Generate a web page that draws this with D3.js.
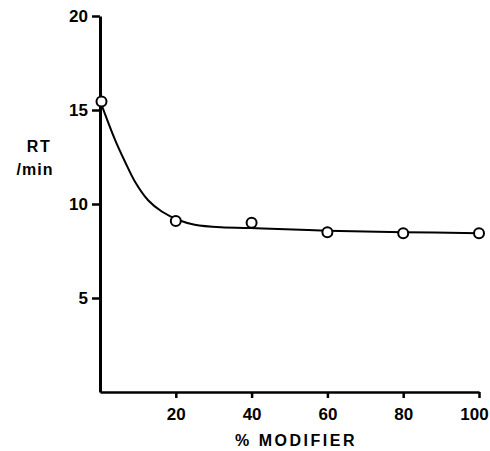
<!DOCTYPE html>
<html>
<head>
<meta charset="utf-8">
<script src="https://cdn.jsdelivr.net/npm/d3@7"></script>
<style>
  body { margin: 0; background: #fff; }
  svg text { font-family: "Liberation Sans", Arial, sans-serif; font-weight: bold; fill: #000; }
</style>
</head>
<body>
<div id="chart"></div>
<script>
// measured points (% modifier vs retention time)
var modifier = [0, 20, 40, 60, 80, 100];
var rt = [15.45, 9.1, 9.0, 8.5, 8.45, 8.45];

// hand drawn fitted curve
var curveX = [0, 4, 6.6, 9.2, 12.7, 16.3, 20.7, 25, 32, 38, 43, 60, 80, 100];
var curveY = [15.5, 13.4, 12.25, 11.2, 10.2, 9.6, 9.15, 8.9, 8.76, 8.73, 8.7, 8.58, 8.5, 8.45];

var xTicks = [20, 40, 60, 80, 100];
var yTicks = [5, 10, 15, 20];

var width = 490, height = 451;

var svg = d3.select("#chart").append("svg")
  .attr("width", width)
  .attr("height", height);

var x = d3.scaleLinear().domain([0, 100]).range([100, 479]);
var y = d3.scaleLinear().domain([0, 20]).range([392, 16]);

// x axis
var xAxis = svg.append("g")
  .attr("transform", "translate(0," + y(0) + ")")
  .call(d3.axisBottom(x).tickValues(xTicks).tickSize(6).tickSizeOuter(0).tickPadding(10));
xAxis.select(".domain").attr("stroke", "#000").attr("stroke-width", 2.5);
xAxis.selectAll(".tick line").attr("stroke", "#000").attr("stroke-width", 2.5);
xAxis.selectAll(".tick text")
  .style("font-size", "17px")
  .attr("dx", function(d) { return d === 100 ? -5 : 0; });

// y axis
var yAxis = svg.append("g")
  .attr("transform", "translate(" + x(0) + ",0)")
  .call(d3.axisLeft(y).tickValues(yTicks).tickSize(8).tickSizeOuter(0).tickPadding(4));
yAxis.select(".domain").attr("stroke", "#000").attr("stroke-width", 3);
yAxis.selectAll(".tick line").attr("stroke", "#000").attr("stroke-width", 2.5);
yAxis.selectAll(".tick text").style("font-size", "17px");

// axis titles
svg.append("text")
  .attr("x", 296).attr("y", 446)
  .attr("text-anchor", "middle")
  .style("font-size", "16px")
  .style("letter-spacing", "2.5px")
  .text("% MODIFIER");

svg.append("text")
  .attr("x", 39).attr("y", 152)
  .attr("text-anchor", "middle")
  .style("font-size", "16px")
  .style("letter-spacing", "1.5px")
  .text("RT");
svg.append("text")
  .attr("x", 35).attr("y", 175)
  .attr("text-anchor", "middle")
  .style("font-size", "16px")
  .style("letter-spacing", "1px")
  .text("/min");

// fitted curve
var line = d3.line()
  .x(function(d) { return x(d[0]); })
  .y(function(d) { return y(d[1]); })
  .curve(d3.curveCatmullRom.alpha(0.5));

svg.append("path")
  .datum(d3.zip(curveX, curveY))
  .attr("d", line)
  .attr("fill", "none")
  .attr("stroke", "#000")
  .attr("stroke-width", 2);

// data circles
svg.selectAll("circle.pt")
  .data(d3.zip(modifier, rt))
  .enter().append("circle")
  .attr("class", "pt")
  .attr("cx", function(d) { return x(d[0]) + (d[0] === 0 ? 1.5 : 0); })
  .attr("cy", function(d) { return y(d[1]); })
  .attr("r", 5)
  .attr("fill", "#fff")
  .attr("stroke", "#000")
  .attr("stroke-width", 2);
</script>
</body>
</html>
